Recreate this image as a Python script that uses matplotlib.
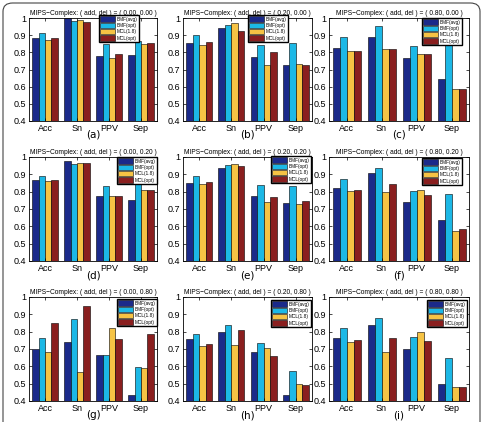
import numpy as np
import matplotlib
matplotlib.use("Agg")
import matplotlib.pyplot as plt
from matplotlib.patches import FancyBboxPatch

# categories / series
categories = ['Acc', 'Sn', 'PPV', 'Sep']
series = ['BMF(avg)', 'BMF(opt)', 'MCL(1.8)', 'MCL(opt)']
colors = ['#1b2a8a', '#1cb8e6', '#f6c344', '#8a1f1f']
yticks = [0.4, 0.5, 0.6, 0.7, 0.8, 0.9, 1.0]
ytick_labels = ['0.4', '0.5', '0.6', '0.7', '0.8', '0.9', '1']

add_del = ['0.00, 0.00', '0.20, 0.00', '0.80, 0.00',
           '0.00, 0.20', '0.20, 0.20', '0.80, 0.20',
           '0.00, 0.80', '0.20, 0.80', '0.80, 0.80']
panel_labels = ['(a)', '(b)', '(c)', '(d)', '(e)', '(f)', '(g)', '(h)', '(i)']

# values per panel: rows = series, cols = Acc, Sn, PPV, Sep
vals_a = [[0.881, 1.000, 0.779, 0.785],
          [0.912, 0.982, 0.846, 0.865],
          [0.871, 0.990, 0.766, 0.848],
          [0.881, 0.978, 0.793, 0.855]]
vals_b = [[0.853, 0.940, 0.775, 0.729],
          [0.900, 0.959, 0.842, 0.857],
          [0.840, 0.971, 0.727, 0.734],
          [0.859, 0.922, 0.800, 0.725]]
vals_c = [[0.825, 0.888, 0.767, 0.646],
          [0.892, 0.952, 0.838, 0.846],
          [0.807, 0.820, 0.792, 0.588],
          [0.807, 0.820, 0.792, 0.588]]
vals_d = [[0.869, 0.975, 0.775, 0.752],
          [0.893, 0.960, 0.832, 0.842],
          [0.863, 0.967, 0.775, 0.810],
          [0.865, 0.967, 0.775, 0.810]]
vals_e = [[0.852, 0.937, 0.775, 0.733],
          [0.890, 0.955, 0.837, 0.830],
          [0.843, 0.960, 0.740, 0.727],
          [0.856, 0.949, 0.770, 0.746]]
vals_f = [[0.821, 0.910, 0.740, 0.637],
          [0.871, 0.935, 0.806, 0.785],
          [0.804, 0.800, 0.810, 0.575],
          [0.811, 0.843, 0.780, 0.585]]
vals_g = [[0.702, 0.742, 0.663, 0.433],
          [0.763, 0.871, 0.667, 0.598],
          [0.685, 0.569, 0.823, 0.592],
          [0.848, 0.950, 0.760, 0.785]]
vals_h = [[0.760, 0.798, 0.683, 0.435],
          [0.785, 0.838, 0.737, 0.575],
          [0.715, 0.723, 0.708, 0.500],
          [0.730, 0.808, 0.662, 0.494]]
vals_i = [[0.766, 0.840, 0.702, 0.500],
          [0.824, 0.880, 0.770, 0.646],
          [0.738, 0.681, 0.798, 0.481],
          [0.751, 0.762, 0.745, 0.483]]
all_vals = [vals_a, vals_b, vals_c, vals_d, vals_e, vals_f, vals_g, vals_h, vals_i]

narrow = ['Liberation Sans Narrow', 'Liberation Sans', 'DejaVu Sans']

W, H = 484, 422
fig = plt.figure(figsize=(W / 100, H / 100), dpi=100)

# axes boxes in pixels (left, right) and (top, bottom)
cols = [(29, 157), (183, 312), (329, 469)]
rows = [(18, 121), (157, 261), (297, 401)]
# legend upper-right corner in pixels
leg_pos = [(139, 15), (288, 15), (462, 18),
           (157, 157), (311, 156), (462, 158),
           (157, 299), (311, 300), (467, 300)]

x = np.arange(1, len(categories) + 1)
bw = 0.2

for k in range(9):
    r, c = divmod(k, 3)
    l, rt = cols[c]
    t, b = rows[r]
    ax = fig.add_axes([l / W, 1 - b / H, (rt - l) / W, (b - t) / H])
    vals = all_vals[k]
    for s in range(4):
        ax.bar(x + (s - 1.5) * bw, vals[s], width=bw, color=colors[s],
               edgecolor='black', linewidth=0.4, label=series[s])
    ax.set_xlim(0.5, 4.5)
    ax.set_ylim(0.4, 1.0)
    ax.set_xticks(x)
    ax.set_xticklabels(categories, family=narrow, fontsize=6.5)
    ax.set_yticks(yticks)
    ax.set_yticklabels(ytick_labels, family=narrow, fontsize=6.5)
    ax.tick_params(direction='in', length=2, width=0.5,
                   top=True, right=True, pad=2)
    for sp in ax.spines.values():
        sp.set_linewidth(0.6)
    ax.set_title('MIPS\u2212Complex: ( add, del ) = ( ' + add_del[k] + ' )',
                 fontsize=4.8, pad=2.5, family=narrow)
    lx, ly = leg_pos[k]
    ax.legend(loc='upper right', bbox_to_anchor=(lx / W, 1 - ly / H),
              bbox_transform=fig.transFigure, borderaxespad=0,
              prop={'family': narrow, 'size': 3.4},
              handlelength=3.2, handleheight=1.3,
              labelspacing=0.25, borderpad=0.3, handletextpad=0.3,
              fancybox=False, framealpha=1, edgecolor='black')
    fig.text((l + rt) / 2 / W, 1 - (b + 14) / H, panel_labels[k],
             ha='center', va='center', fontsize=7.5)

# rounded outer frame
frame = FancyBboxPatch((3 / W, -0.05), 477 / W, 1 - 3 / H + 0.05,
                       boxstyle='round,pad=0,rounding_size=0.02',
                       transform=fig.transFigure, fill=False,
                       edgecolor='#444444', linewidth=0.8)
fig.patches.append(frame)

fig.savefig('out.png', dpi=100)
